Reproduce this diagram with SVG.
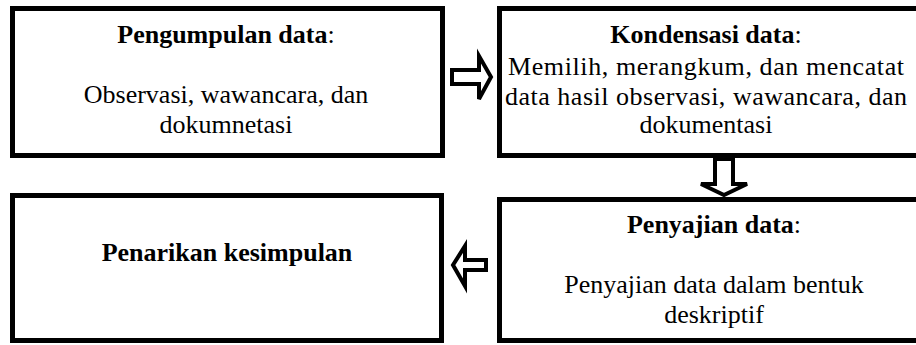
<svg xmlns="http://www.w3.org/2000/svg" width="916" height="345" viewBox="0 0 916 345">
<style>
.box{fill:#fff;stroke:#000;stroke-width:5}
.arr{fill:#fff;stroke:#000;stroke-width:4;stroke-linejoin:miter}
text{font-family:"Liberation Serif","Times New Roman",serif;font-size:26px;fill:#000;text-anchor:middle}
.b{font-weight:bold}
</style>
<rect width="916" height="345" fill="#fff"/>
<g id="pengumpulan">
<rect class="box" x="12.5" y="8.5" width="430" height="147"/>
<text x="226" y="43"><tspan class="b">Pengumpulan data</tspan>:</text>
<text x="226" y="103">Observasi, wawancara, dan</text>
<text x="226" y="133">dokumnetasi</text>
</g>
<g id="kondensasi">
<rect class="box" x="499.5" y="8.5" width="430" height="147"/>
<text x="706" y="43"><tspan class="b">Kondensasi data</tspan>:</text>
<text x="706" y="75" textLength="396" lengthAdjust="spacing">Memilih, merangkum, dan mencatat</text>
<text x="706" y="105" textLength="402" lengthAdjust="spacing">data hasil observasi, wawancara, dan</text>
<text x="706" y="133">dokumentasi</text>
</g>
<g id="penarikan">
<rect class="box" x="12.5" y="195.5" width="429" height="145"/>
<text class="b" x="227" y="261">Penarikan kesimpulan</text>
</g>
<g id="penyajian">
<rect class="box" x="499.5" y="199.5" width="430" height="141"/>
<text x="714" y="233"><tspan class="b">Penyajian data</tspan>:</text>
<text x="714" y="293">Penyajian data dalam bentuk</text>
<text x="714" y="323">deskriptif</text>
</g>
<g id="connectors">
<polygon class="arr" points="452,70 479,70 479,56 491,77 479,99 479,84 452,84"/>
<polygon class="arr" points="715,159 733,159 733,184 747,184 724,195 701,184 715,184"/>
<polygon class="arr" points="486,260 465,260 465,246 453,265 465,286 465,270 486,270"/>
</g>
</svg>
